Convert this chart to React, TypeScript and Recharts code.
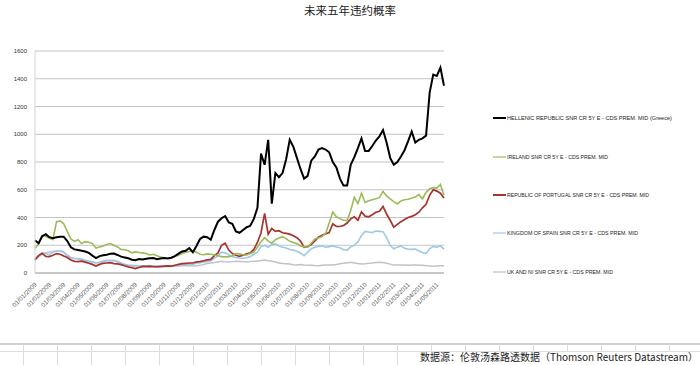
import React from "react";
import {
	CartesianGrid,
	Line,
	LineChart,
	XAxis,
	YAxis,
} from "recharts";

const monthLabels = [
	"01/01/2009", "01/02/2009", "01/03/2009", "01/04/2009", "01/05/2009", "01/06/2009",
	"01/07/2009", "01/08/2009", "01/09/2009", "01/10/2009", "01/11/2009", "01/12/2009",
	"01/01/2010", "01/02/2010", "01/03/2010", "01/04/2010", "01/05/2010", "01/06/2010",
	"01/07/2010", "01/08/2010", "01/09/2010", "01/10/2010", "01/11/2010", "01/12/2010",
	"01/01/2011", "01/02/2011", "01/03/2011", "01/04/2011", "01/05/2011",
];
const weekDays = ["01", "08", "15", "22"];

const yTicks = [0, 200, 400, 600, 800, 1000, 1200, 1400, 1600];

// weekly CDS spreads (bp)
const greece = [
	235, 215, 265, 280, 258, 250, 258, 262, 262, 230,
	185, 170, 165, 160, 155, 145, 125, 108, 122, 128,
	132, 138, 140, 130, 118, 112, 106, 96, 92, 100,
	98, 102, 106, 108, 100, 104, 108, 105, 110, 122,
	140, 155, 160, 180, 150, 195, 245, 262, 258, 240,
	310, 370, 395, 410, 365, 355, 300, 290, 310, 330,
	340, 390, 470, 860, 780, 960, 500, 720, 690, 720,
	820, 960, 910, 830, 750, 680, 700, 810, 840, 890,
	900, 890, 870, 800, 760, 680, 630, 630, 780, 835,
	900, 970, 880, 880, 915, 955, 985, 1030, 940, 830,
	780, 800, 840, 885, 950, 1020, 940, 960, 970, 990,
	1300, 1430, 1420, 1480, 1350,
];
const ireland = [
	178, 210, 270, 265, 250, 240, 370, 375, 355, 300,
	245, 228, 240, 212, 226, 222, 212, 180, 188, 195,
	205, 212, 200, 188, 170, 168, 160, 145, 152, 148,
	145, 140, 130, 135, 125, 115, 110, 106, 108, 120,
	128, 140, 150, 155, 160, 150, 135, 132, 138, 135,
	130, 125, 118, 116, 118, 125, 140, 138, 132, 130,
	140, 150, 185, 225, 255, 230, 215, 240, 252, 262,
	248, 228, 220, 212, 195, 190, 186, 215, 246, 252,
	262, 285, 360, 440, 405, 392, 380, 378, 450, 545,
	500, 575, 508, 520, 528, 535, 543, 588, 555, 535,
	515, 498, 520, 528, 532, 540, 548, 565, 535, 580,
	608, 615, 612, 638, 560,
];
const portugal = [
	94, 125, 142, 120, 118, 128, 140, 135, 122, 112,
	94, 84, 82, 86, 78, 70, 62, 50, 62, 70,
	72, 74, 68, 66, 60, 52, 44, 38, 32, 40,
	48, 48, 50, 47, 46, 48, 50, 52, 50, 56,
	62, 68, 70, 72, 72, 80, 82, 88, 94, 98,
	125, 145, 200, 215, 165, 140, 128, 120, 128, 138,
	145, 170, 220, 290, 430, 280, 320, 300, 305, 290,
	285, 280, 268, 255, 230, 185, 190, 205, 232, 258,
	272, 282, 292, 355, 335, 335, 342, 360, 390, 405,
	380, 440, 410, 405, 420, 438, 445, 480, 425, 380,
	330, 350, 370, 385, 400, 408, 420, 438, 470, 495,
	560, 600, 590, 575, 540,
];
const spain = [
	106, 125, 145, 140, 132, 150, 158, 162, 150, 120,
	108, 104, 105, 100, 92, 86, 82, 72, 78, 86,
	92, 90, 88, 80, 70, 62, 58, 56, 54, 50,
	52, 50, 48, 48, 46, 46, 47, 48, 48, 52,
	56, 60, 64, 66, 62, 70, 75, 80, 82, 88,
	105, 125, 150, 145, 132, 118, 112, 108, 105, 110,
	118, 135, 150, 190, 200, 185, 205, 210, 195, 185,
	180, 170, 165, 155, 145, 125, 150, 175, 186, 192,
	194, 186, 190, 195, 188, 182, 168, 165, 190, 200,
	225, 270, 300, 295, 290, 302, 300, 298, 255, 200,
	175, 185, 195, 178, 172, 170, 172, 158, 148, 140,
	175, 192, 186, 196, 172,
];
const uk = [
	100, 118, 135, 145, 152, 155, 158, 160, 150, 130,
	112, 105, 100, 92, 85, 80, 78, 74, 75, 80,
	86, 90, 92, 85, 72, 62, 55, 48, 45, 44,
	42, 42, 41, 41, 42, 43, 45, 48, 50, 52,
	50, 52, 54, 52, 50, 52, 55, 62, 68, 72,
	76, 80, 84, 82, 80, 82, 84, 83, 82, 80,
	82, 84, 85, 90, 94, 88, 84, 80, 72, 68,
	66, 64, 60, 58, 62, 58, 56, 56, 54, 53,
	56, 58, 57, 58, 62, 66, 70, 74, 78, 72,
	68, 65, 66, 70, 72, 75, 77, 76, 70, 64,
	58, 57, 58, 57, 56, 57, 58, 56, 55, 52,
	50, 48, 50, 52, 53,
];

const series = [
	{ key: "greece", name: "HELLENIC REPUBLIC SNR CR 5Y E - CDS PREM. MID (Greece)", values: greece, color: "#000000", width: 2, legendW: 165, legendY: 118 },
	{ key: "ireland", name: "IRELAND SNR CR 5Y E - CDS PREM. MID", values: ireland, color: "#9bbb59", width: 1.6, legendW: 101, legendY: 157 },
	{ key: "portugal", name: "REPUBLIC OF PORTUGAL SNR CR 5Y E - CDS PREM. MID", values: portugal, color: "#a8322d", width: 1.7, legendW: 142, legendY: 195 },
	{ key: "spain", name: "KINGDOM OF SPAIN SNR CR 5Y E - CDS PREM. MID", values: spain, color: "#9ccae6", width: 1.6, legendW: 131, legendY: 233 },
	{ key: "uk", name: "UK AND NI SNR CR 5Y E - CDS PREM. MID", values: uk, color: "#c4c0c8", width: 1.5, legendW: 106, legendY: 272 },
];

const categories = monthLabels
	.flatMap((m) => weekDays.map((d) => d + m.slice(2)))
	.slice(0, greece.length);

const data = categories.map((date, i) => {
	const row: Record<string, any> = { date };
	series.forEach((s) => {
		row[s.key] = s.values[i];
	});
	return row;
});

const font = "'Liberation Sans', Arial, sans-serif";

const DateTick = ({ x, y, payload }: any) => (
	<text
		x={x}
		y={y}
		dy={3}
		fill="#555"
		fontFamily={font}
		fontSize={6.3}
		textAnchor="end"
		transform={`rotate(-45 ${x} ${y})`}
	>
		{payload.value}
	</text>
);

const LegendBox = () => (
	<svg height={340} style={{ left: 0, pointerEvents: "none", position: "absolute", top: 0 }} width={700}>
		{series.map((s) => (
			<g key={s.key}>
				<line
					stroke={s.color}
					strokeWidth={s.key === "greece" ? 2 : s.key === "portugal" ? 2 : 1.2}
					x1={493}
					x2={506}
					y1={s.legendY}
					y2={s.legendY}
				/>
				<text
					dominantBaseline="middle"
					fill="#222"
					fontFamily={font}
					fontSize={6.2}
					lengthAdjust="spacingAndGlyphs"
					textLength={s.legendW}
					x={507}
					y={s.legendY + 0.5}
				>
					{s.name}
				</text>
			</g>
		))}
	</svg>
);

const colXs = Array.from({ length: 20 }, (_, i) => 23 + i * 34);

export default function App() {
	return (
		<div style={{ background: "#fff", height: 365, position: "relative", width: 700 }}>
			<style>{"body{margin:0}"}</style>
			<div
				style={{
					color: "#222",
					fontFamily: "'Noto Sans CJK SC', sans-serif",
					fontSize: 11.5,
					left: 0,
					lineHeight: "14px",
					position: "absolute",
					textAlign: "center",
					top: 3,
					width: 700,
				}}
			>
				未来五年违约概率
			</div>
			<LineChart
				data={data}
				height={340}
				margin={{ bottom: 27, left: 8, right: 256, top: 51 }}
				width={700}
			>
				<CartesianGrid stroke="#c4c4c4" vertical={false} />
				<XAxis
					axisLine={{ stroke: "#c8c8c8", strokeWidth: 2 }}
					dataKey="date"
					height={40}
					interval={3}
					tick={<DateTick />}
					tickLine={false}
					tickMargin={4}
				/>
				<YAxis
					axisLine={{ stroke: "#d4d4d4" }}
					domain={[0, 1600]}
					tick={{ fill: "#333", fontFamily: font, fontSize: 6 }}
					tickLine={false}
					ticks={yTicks}
					type="number"
					width={27}
				/>
				{[...series].reverse().map((s) => (
					<Line
						dataKey={s.key}
						dot={false}
						isAnimationActive={false}
						key={s.key}
						name={s.name}
						stroke={s.color}
						strokeWidth={s.width}
						type="linear"
					/>
				))}
			</LineChart>
			<LegendBox />
			<svg height={25} style={{ left: 0, position: "absolute", top: 340 }} width={700}>
				<line stroke="#d0d0d0" strokeWidth={2} x1={0} x2={700} y1={4} y2={4} />
				<line stroke="#dcdcdc" x1={0} x2={700} y1={11.5} y2={11.5} />
				{colXs.map((x) => (
					<line
						key={x}
						stroke="#dcdcdc"
						x1={x + 0.5}
						x2={x + 0.5}
						y1={4}
						y2={x < 430 ? 25 : 11.5}
					/>
				))}
				<text
					fill="#222"
					fontFamily="'Noto Sans CJK SC', sans-serif"
					fontSize={10}
					textAnchor="end"
					x={698}
					y={21}
				>
					数据源：伦敦汤森路透数据（Thomson Reuters Datastream）
				</text>
			</svg>
		</div>
	);
}
